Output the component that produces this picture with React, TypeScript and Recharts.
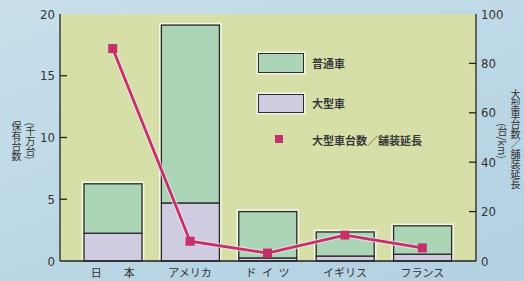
import React from 'react';
import { ComposedChart, Bar, Line, XAxis, YAxis, CartesianGrid } from 'recharts';

const categories = ['日\u3000\u3000本', 'アメリカ', 'ド\u2002イ\u2002ツ', 'イギリス', 'フランス'];
const largeVehicles = [2.25, 4.7, 0.25, 0.4, 0.55];
const normalVehicles = [4.0, 14.4, 3.75, 1.95, 2.3];
const largePerPaved = [86, 8, 3.2, 10.5, 5.3];
const leftTicks = [0, 5, 10, 15, 20];
const rightTicks = [0, 20, 40, 60, 80, 100];

const data = categories.map((name, i) => ({
  name,
  large: largeVehicles[i],
  normal: normalVehicles[i],
  ratio: largePerPaved[i],
}));

const NUM_FONT = "'Liberation Sans Narrow','DejaVu Sans Condensed','Roboto Condensed',sans-serif";
const JP_FONT = "'Noto Sans CJK JP','Noto Sans CJK SC',sans-serif";
const LINE_COLOR = '#c5306a';

const LeftTick = (props: any) => {
  const { x, y, payload } = props;
  const v = payload.value;
  return (
    <g>
      {v !== 0 && v !== 20 && (
        <line x1={x + 4} x2={x + 11} y1={y} y2={y} stroke="#222" strokeWidth={1.3} />
      )}
      <text x={x - 1} y={y} dy="0.36em" textAnchor="end" fontFamily={NUM_FONT} fontSize={13} fill="#333">
        {v}
      </text>
    </g>
  );
};

const RightTick = (props: any) => {
  const { x, y, payload } = props;
  const v = payload.value;
  return (
    <g>
      {v !== 0 && v !== 100 && (
        <line x1={x - 4} x2={x - 11} y1={y} y2={y} stroke="#222" strokeWidth={1.3} />
      )}
      <text x={x + 1} y={y} dy="0.36em" textAnchor="start" fontFamily={NUM_FONT} fontSize={13} fill="#333">
        {v}
      </text>
    </g>
  );
};

const XTick = (props: any) => {
  const { x, y, payload } = props;
  return (
    <text x={x} y={y} dy="0.75em" textAnchor="middle" fontFamily={JP_FONT} fontSize={11} fill="#333">
      {payload.value}
    </text>
  );
};

const makeBarShape = (top: boolean) => (props: any) => {
  const { x, y, width, height, fill } = props;
  if (width == null || height == null) return null;
  const h = 1.6;
  const halo = top
    ? `M${x - h},${y + height} L${x - h},${y - h} L${x + width + h},${y - h} L${x + width + h},${y + height}`
    : `M${x - h},${y} L${x - h},${y + height} M${x + width + h},${y} L${x + width + h},${y + height}`;
  return (
    <g>
      <path d={halo} fill="none" stroke="#f4f6e6" strokeWidth={1.6} />
      <rect x={x} y={y} width={width} height={height} fill={fill} stroke="#2b2b2b" strokeWidth={1.3} />
    </g>
  );
};

const SquareDot = (props: any) => {
  const { cx, cy, index } = props;
  if (cx == null || cy == null) return <g key={index} />;
  return <rect key={index} x={cx - 4.5} y={cy - 4.5} width={9} height={9} fill={LINE_COLOR} />;
};

const vText: React.CSSProperties = {
  position: 'absolute',
  writingMode: 'vertical-rl',
  fontFamily: JP_FONT,
  fontSize: 10,
  color: '#333',
  lineHeight: 1,
  transform: 'translate(-50%, -50%)',
  whiteSpace: 'nowrap',
};

const legendText: React.CSSProperties = {
  position: 'absolute',
  fontFamily: JP_FONT,
  fontSize: 11,
  fontWeight: 700,
  color: '#3a3a3a',
  lineHeight: 1,
  transform: 'translateY(-50%)',
  whiteSpace: 'nowrap',
};

export default function App() {
  return (
    <div
      style={{
        position: 'absolute',
        left: 0,
        top: 0,
        width: 524,
        height: 281,
        background: 'linear-gradient(160deg, #c9e0ec 0%, #bad6e5 60%, #b3d1e2 100%)',
        overflow: 'hidden',
      }}
    >
      <ComposedChart
        width={524}
        height={281}
        data={data}
        margin={{ top: 14, right: 0, bottom: 0, left: 0 }}
      >
        <CartesianGrid fill="#d6dfa8" stroke="none" horizontal={false} vertical={false} />
        <XAxis
          dataKey="name"
          height={20}
          padding={{ left: 14, right: 15 }}
          axisLine={{ stroke: '#222', strokeWidth: 1.3 }}
          tickLine={false}
          tickSize={6}
          tickMargin={2}
          tick={<XTick />}
          interval={0}
        />
        <XAxis
          xAxisId="top"
          dataKey="name"
          orientation="top"
          height={0}
          tick={false}
          tickLine={false}
          axisLine={{ stroke: '#222', strokeWidth: 1.3 }}
        />
        <YAxis
          yAxisId="left"
          width={60}
          domain={[0, 20]}
          ticks={leftTicks}
          interval={0}
          axisLine={{ stroke: '#222', strokeWidth: 1.3 }}
          tickLine={false}
          tickSize={0}
          tickMargin={4}
          tick={<LeftTick />}
        />
        <YAxis
          yAxisId="right"
          orientation="right"
          width={48}
          domain={[0, 100]}
          ticks={rightTicks}
          interval={0}
          axisLine={{ stroke: '#222', strokeWidth: 1.3 }}
          tickLine={false}
          tickSize={0}
          tickMargin={4}
          tick={<RightTick />}
        />
        <Bar
          yAxisId="left"
          dataKey="large"
          stackId="v"
          fill="#cfcbe1"
          barSize={58}
          shape={makeBarShape(false)}
          isAnimationActive={false}
        />
        <Bar
          yAxisId="left"
          dataKey="normal"
          stackId="v"
          fill="#acd4b6"
          barSize={58}
          shape={makeBarShape(true)}
          isAnimationActive={false}
        />
        <Line
          yAxisId="right"
          dataKey="ratio"
          stroke="#f3e6ea"
          strokeWidth={5}
          strokeOpacity={0.7}
          dot={false}
          activeDot={false}
          isAnimationActive={false}
        />
        <Line
          yAxisId="right"
          dataKey="ratio"
          stroke={LINE_COLOR}
          strokeWidth={2.8}
          dot={<SquareDot />}
          activeDot={false}
          isAnimationActive={false}
        />
      </ComposedChart>

      {/* Legend */}
      <div
        style={{
          position: 'absolute',
          left: 258,
          top: 53,
          width: 44,
          height: 18,
          background: '#acd4b6',
          border: '1.3px solid #2b2b2b',
          boxShadow: '0 0 0 1.5px #f4f6e6',
        }}
      />
      <div style={{ ...legendText, left: 312, top: 63 }}>普通車</div>
      <div
        style={{
          position: 'absolute',
          left: 258,
          top: 94,
          width: 44,
          height: 17,
          background: '#cfcbe1',
          border: '1.3px solid #2b2b2b',
          boxShadow: '0 0 0 1.5px #f4f6e6',
        }}
      />
      <div style={{ ...legendText, left: 312, top: 103 }}>大型車</div>
      <div
        style={{
          position: 'absolute',
          left: 275,
          top: 135,
          width: 8,
          height: 8,
          background: LINE_COLOR,
        }}
      />
      <div style={{ ...legendText, left: 312, top: 140 }}>大型車台数／舗装延長</div>

      {/* Axis titles */}
      <div style={{ ...vText, left: 16, top: 141 }}>保有台数</div>
      <div style={{ ...vText, left: 30, top: 141 }}>(千万台)</div>
      <div style={{ ...vText, left: 502, top: 141 }}>(台/km)</div>
      <div style={{ ...vText, left: 515, top: 139 }}>大型車台数／舗装延長</div>
    </div>
  );
}
